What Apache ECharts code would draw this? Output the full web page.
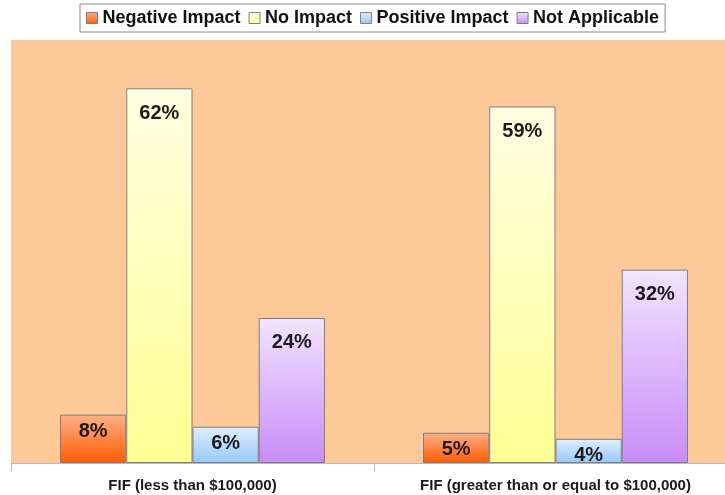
<!DOCTYPE html>
<html><head><meta charset="utf-8">
<script src="https://cdn.jsdelivr.net/npm/echarts@6/dist/echarts.min.js"></script>
<style>html,body{margin:0;padding:0;background:#fff;overflow:hidden;width:725px;height:495px}#c{width:737px;height:495px}</style>
</head><body><div id="c"></div>
<script>
const categories = ['FIF (less than $100,000)', 'FIF (greater than or equal to $100,000)'];
const seriesNames = ['Negative Impact', 'No Impact', 'Positive Impact', 'Not Applicable'];
const negativeImpact = [8, 5];
const noImpact = [62, 59];
const positiveImpact = [6, 4];
const notApplicable = [24, 32];
const values = [negativeImpact, noImpact, positiveImpact, notApplicable];
const gradients = [
  ['#FFB088', '#FF5A00'],
  ['#FFFFE2', '#FFFF94'],
  ['#E0EFFF', '#96C8FA'],
  ['#F2E4FF', '#C88CF8']
];
const font = 'Arial, "Liberation Sans", sans-serif';
const chart = echarts.init(document.getElementById('c'));
const series = seriesNames.map((name, i) => ({
  name, type: 'bar', barGap: '0%', barCategoryGap: '27%',
  itemStyle: {
    color: new echarts.graphic.LinearGradient(0, 0, 0, 1, [
      {offset: 0, color: gradients[i][0]}, {offset: 1, color: gradients[i][1]}
    ]),
    borderColor: '#7f7f7f', borderWidth: 1
  },
  label: {
    show: true, position: 'insideTop', formatter: '{c}%',
    fontFamily: font, fontWeight: 'bold', fontSize: 20, color: '#1a1a1a'
  },
  data: values[i].map(v => ({value: v, label: {distance: v < 10 ? 7 : 15}}))
}));
chart.setOption({
  animation: false,
  backgroundColor: '#fff',
  legend: {
    top: 4, left: 80,
    data: seriesNames,
    icon: 'rect', itemWidth: 11, itemHeight: 11, itemGap: 8,
    padding: [5, 6, 5, 6],
    borderColor: '#8a8a8a', borderWidth: 1, backgroundColor: '#fff',
    textStyle: {fontFamily: font, fontWeight: 'bold', fontSize: 18, color: '#111'},
    itemStyle: {borderColor: '#7f7f7f', borderWidth: 1}
  },
  grid: {
    left: 11, top: 40, right: 0, bottom: 32,
    show: true, backgroundColor: '#FDC998', borderWidth: 0
  },
  xAxis: {
    type: 'category', data: categories,
    axisLine: {lineStyle: {color: '#b8b8b8', width: 1}},
    axisTick: {show: true, length: 8, lineStyle: {color: '#b8b8b8'}},
    axisLabel: {fontFamily: font, fontWeight: 'bold', fontSize: 15, color: '#1a1a1a', margin: 15}
  },
  yAxis: {
    type: 'value', min: 0, max: 70, show: false,
    splitLine: {show: false}
  },
  series
});
</script></body></html>
